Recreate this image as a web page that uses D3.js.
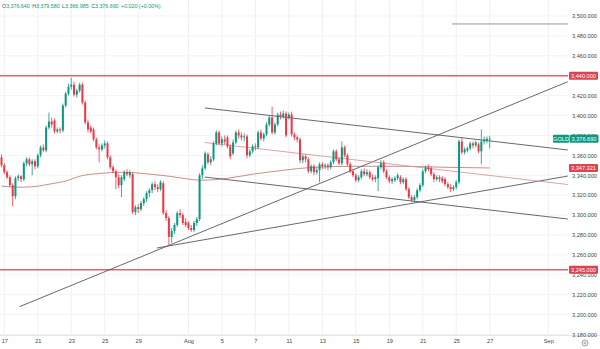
<!DOCTYPE html>
<html><head><meta charset="utf-8">
<script src="https://cdn.jsdelivr.net/npm/d3@7"></script>
<style>
html,body{margin:0;padding:0;background:#fff;}
svg{display:block;font-family:"Liberation Sans",Arial,sans-serif;}
</style>
</head><body>
<svg id="chart" width="600" height="349"></svg>
<script>
// GOLD, 4-hour candles: [open, high, low, close]
const candles = [
  [3358,3361,3348,3350],[3350,3352,3341,3343],[3343,3345,3336,3338],[3338,3340,3328,3330],[3330,3332,3309,3319],
  [3319,3339,3316,3337],[3337,3341,3334,3339],[3339,3340,3333,3336],[3336,3354,3334,3352],[3352,3358,3349,3356],
  [3356,3358,3349,3351],[3351,3356,3340,3354],[3354,3356,3346,3349],[3349,3362,3347,3360],[3360,3370,3358,3368],
  [3368,3371,3363,3365],[3365,3390,3363,3388],[3388,3403,3386,3394],[3394,3398,3388,3391],[3395,3397,3382,3384],
  [3384,3388,3382,3386],[3386,3388,3382,3385],[3385,3412,3383,3410],[3410,3424,3408,3422],[3422,3432,3420,3429],
  [3429,3438,3426,3431],[3431,3434,3419,3421],[3421,3427,3418,3425],[3425,3433,3423,3431],[3431,3433,3411,3413],
  [3413,3415,3391,3393],[3393,3396,3383,3386],[3388,3390,3382,3384],[3386,3388,3374,3376],[3376,3378,3366,3368],
  [3368,3371,3353,3366],[3366,3372,3364,3370],[3370,3375,3367,3372],[3372,3374,3356,3358],[3358,3360,3346,3348],
  [3348,3350,3342,3344],[3344,3346,3326,3338],[3338,3341,3327,3330],[3330,3340,3318,3338],[3336,3345,3334,3343],
  [3343,3346,3339,3341],[3340,3345,3337,3343],[3341,3343,3301,3303],[3303,3310,3300,3308],[3308,3311,3302,3306],
  [3306,3314,3304,3312],[3312,3318,3309,3316],[3316,3324,3313,3322],[3322,3327,3318,3325],[3325,3333,3322,3331],
  [3331,3334,3325,3328],[3328,3331,3323,3326],[3326,3335,3324,3333],[3332,3334,3300,3302],[3302,3305,3294,3297],
  [3297,3299,3269,3278],[3278,3287,3272,3284],[3284,3292,3281,3290],[3290,3304,3288,3302],[3302,3306,3297,3300],
  [3300,3302,3290,3292],[3293,3297,3288,3290],[3292,3294,3285,3287],[3287,3290,3283,3285],[3285,3294,3283,3292],
  [3292,3298,3289,3296],[3296,3342,3294,3340],[3340,3350,3336,3347],[3347,3364,3345,3362],[3361,3363,3351,3353],
  [3353,3359,3350,3356],[3356,3374,3354,3372],[3372,3385,3370,3383],[3383,3385,3370,3372],[3372,3379,3369,3376],
  [3376,3380,3371,3374],[3378,3380,3367,3369],[3369,3371,3356,3359],[3362,3376,3360,3373],[3373,3385,3371,3383],
  [3383,3386,3377,3380],[3380,3383,3375,3378],[3378,3382,3374,3379],[3379,3381,3357,3360],[3360,3366,3358,3364],
  [3364,3371,3362,3369],[3369,3372,3365,3368],[3368,3385,3366,3383],[3383,3386,3375,3377],[3377,3383,3374,3381],
  [3381,3393,3379,3391],[3391,3400,3389,3398],[3398,3409,3381,3383],[3383,3393,3381,3391],[3391,3403,3389,3401],
  [3401,3404,3396,3399],[3399,3405,3397,3402],[3402,3404,3378,3380],[3398,3403,3396,3401],[3401,3404,3379,3381],
  [3381,3383,3375,3378],[3378,3380,3373,3376],[3376,3378,3352,3355],[3355,3361,3352,3359],[3359,3361,3353,3356],
  [3356,3358,3342,3344],[3344,3351,3342,3349],[3349,3351,3340,3343],[3343,3348,3341,3345],[3345,3353,3333,3351],
  [3351,3353,3346,3349],[3349,3352,3346,3350],[3350,3352,3345,3348],[3348,3355,3346,3353],[3353,3366,3351,3364],
  [3364,3366,3354,3356],[3356,3358,3350,3352],[3352,3374,3350,3368],[3368,3370,3358,3360],[3360,3362,3349,3351],
  [3351,3353,3342,3344],[3344,3346,3338,3340],[3340,3342,3333,3335],[3335,3340,3333,3338],[3338,3346,3336,3344],
  [3344,3347,3339,3341],[3341,3346,3339,3343],[3343,3345,3336,3338],[3338,3341,3334,3336],[3336,3340,3333,3338],
  [3337,3350,3324,3348],[3348,3355,3346,3352],[3353,3355,3342,3344],[3344,3346,3336,3338],[3338,3340,3332,3334],
  [3334,3338,3331,3336],[3335,3339,3333,3337],[3337,3342,3335,3340],[3338,3340,3331,3333],[3333,3338,3331,3336],
  [3336,3338,3324,3326],[3326,3328,3316,3318],[3318,3320,3313,3315],[3315,3320,3313,3318],[3318,3327,3316,3325],
  [3325,3332,3323,3330],[3330,3346,3328,3344],[3344,3350,3342,3348],[3348,3351,3344,3346],[3347,3349,3339,3341],
  [3341,3343,3333,3336],[3336,3340,3334,3338],[3338,3340,3333,3336],[3337,3339,3332,3334],[3336,3338,3329,3331],
  [3331,3333,3326,3328],[3328,3331,3323,3326],[3326,3330,3324,3328],[3328,3335,3326,3333],[3333,3376,3331,3374],
  [3374,3378,3361,3363],[3363,3368,3361,3366],[3365,3369,3363,3367],[3367,3374,3365,3372],[3372,3374,3367,3370],
  [3370,3375,3368,3373],[3371,3373,3362,3364],[3364,3386,3351,3374],[3374,3379,3371,3376],[3375,3379,3372,3376.67],
  [3376.64,3379.58,3366.985,3376.69]
];

// moving average, sampled [candle index, value]
const maPoints = [
  [0,3329],[7,3328],[13,3329],[17,3331],[24,3335],[28,3339],[36,3342],[43,3343],[50,3342],
  [60,3339],[72,3335],[81,3337],[90,3341],[101,3345],[112,3348],[126,3349],[144,3349],[159,3348],[175,3347.321]
];

// time axis: candle index of each labelled session
const dateTickIdx  = [1, 13, 25, 37, 49, 67, 79, 91, 103, 115, 127, 139, 151, 163, 175, 196];
const dateTickText = ["17","21","23","25","29","Aug","5","7","11","13","15","19","21","25","27","Sep"];

const priceTicks = [3180,3200,3220,3240,3260,3280,3300,3320,3340,3360,3380,3400,3420,3440,3460,3480,3500];

// horizontal levels
const redLevels = [3440, 3245];
const topLevel = [161.5, 3492];

// drawn lines: [[index, price], [index, price]]
const channelUpper = [[72.9,3407.6],[203,3365.4]];
const channelMid   = [[72.9,3372.9],[203,3330.7]];
const channelLower = [[72.9,3338.2],[203,3296.0]];
const trendLong    = [[6.5,3208],[203,3434]];
const trendSupport = [[55.7,3266.9],[203,3339.2]];

const UP = "#089981", DOWN = "#f23645";
const plotR = 568, plotB = 335;

const svg = d3.select("#chart");
const x = d3.scaleLinear().domain([0,196]).range([1.5, 548.3]);
const y = d3.scaleLinear().domain([3180,3500]).range([334.5, 16]);

svg.append("defs").append("clipPath").attr("id","plot")
  .append("rect").attr("x",0).attr("y",0).attr("width",plotR).attr("height",plotB);

// grid
const grid = svg.append("g");
grid.selectAll("line.v").data(dateTickIdx).join("line")
  .attr("x1", d => x(d)).attr("x2", d => x(d)).attr("y1", 0).attr("y2", plotB)
  .attr("stroke", "#eef0f4").attr("stroke-width", 1);
grid.selectAll("line.h").data(priceTicks).join("line")
  .attr("x1", 0).attr("x2", plotR).attr("y1", d => y(d)).attr("y2", d => y(d))
  .attr("stroke", "#f2f3f6").attr("stroke-width", 1);

svg.append("line").attr("x1",0).attr("x2",600).attr("y1",plotB+0.5).attr("y2",plotB+0.5)
  .attr("stroke","#e3e5ea");

const plot = svg.append("g").attr("clip-path","url(#plot)");

// horizontal levels
plot.selectAll("line.lvl").data(redLevels).join("line")
  .attr("x1", 0).attr("x2", plotR).attr("y1", d => y(d)).attr("y2", d => y(d))
  .attr("stroke", "#d9666c").attr("stroke-width", 1.5);
plot.append("line")
  .attr("x1", x(topLevel[0])).attr("x2", plotR).attr("y1", y(topLevel[1])).attr("y2", y(topLevel[1]))
  .attr("stroke", "#8a8d94").attr("stroke-width", 0.9);

// moving average
plot.append("path").datum(maPoints)
  .attr("d", d3.line().x(d => x(d[0])).y(d => y(d[1])).curve(d3.curveMonotoneX))
  .attr("fill","none").attr("stroke","#c98f88").attr("stroke-width",1);

// drawn trend lines
const seg = d3.line().x(d => x(d[0])).y(d => y(d[1]));
[[channelUpper,"#55585e"],[channelLower,"#55585e"],[trendLong,"#55585e"],[trendSupport,"#55585e"],[channelMid,"#d79a9a"]]
  .forEach(([pts,col]) => {
    plot.append("path").attr("d", seg(pts)).attr("fill","none")
      .attr("stroke", col).attr("stroke-width", 0.9);
  });

// candles
const cg = plot.append("g");
const bars = cg.selectAll("g").data(candles).join("g")
  .attr("fill", d => d[3] >= d[0] ? UP : DOWN)
  .attr("stroke", d => d[3] >= d[0] ? UP : DOWN);
bars.append("line")
  .attr("x1", (d,i) => x(i)).attr("x2", (d,i) => x(i))
  .attr("y1", d => y(d[1])).attr("y2", d => y(d[2]))
  .attr("stroke-width", 0.8);
bars.append("rect")
  .attr("x", (d,i) => x(i) - 1).attr("width", 2)
  .attr("y", d => y(Math.max(d[0], d[3])))
  .attr("height", d => Math.max(0.8, Math.abs(y(d[0]) - y(d[3]))))
  .attr("stroke", "none");

// price axis
const yAxis = svg.append("g").attr("transform", `translate(${plotR+4},0)`)
  .call(d3.axisRight(y).tickValues(priceTicks).tickSize(0).tickPadding(0).tickFormat(d3.format(",.3f")));
yAxis.select(".domain").remove();
yAxis.selectAll("text").attr("font-size", 5.6).attr("fill", "#444").attr("font-family","Liberation Sans, Arial, sans-serif");

// time axis
const xAxis = svg.append("g").attr("transform", `translate(0,${plotB+4})`)
  .call(d3.axisBottom(x).tickValues(dateTickIdx).tickSize(0).tickPadding(0)
    .tickFormat((d,i) => dateTickText[i]));
xAxis.select(".domain").remove();
xAxis.selectAll("text").attr("font-size", 5.6).attr("fill", "#444").attr("font-family","Liberation Sans, Arial, sans-serif");

// settings icon
const gear = svg.append("g").attr("transform","translate(585,343)");
gear.append("circle").attr("r",3).attr("fill","none").attr("stroke","#777").attr("stroke-width",0.7);
gear.append("circle").attr("r",1.1).attr("fill","none").attr("stroke","#777").attr("stroke-width",0.6);

// value tags on the price axis
function tag(value, color, x0, w, label) {
  const g = svg.append("g").attr("transform", `translate(${x0},${y(value)})`);
  g.append("rect").attr("x",0).attr("y",-4).attr("width",w).attr("height",8).attr("rx",1).attr("fill",color);
  g.append("text").attr("x", w/2).attr("y", 2).attr("text-anchor","middle")
    .attr("font-size",5.6).attr("fill","#fff").text(label);
}
const last = candles[candles.length-1];
const maLast = maPoints[maPoints.length-1][1];
const fmt = d3.format(",.3f");
tag(redLevels[0], "#e0424e", 569, 29, fmt(redLevels[0]));
tag(redLevels[1], "#e0424e", 569, 29, fmt(redLevels[1]));
tag(maLast, "#e0424e", 569, 29, fmt(maLast));
tag(last[3], UP, 553, 16, "GOLD");
tag(last[3], UP, 569.5, 29, fmt(last[3]));

// OHLC header
const hdr = svg.append("text").attr("x", 2).attr("y", 7.5).attr("font-size", 5.3);
const chg = last[3] - candles[candles.length-2][3];
[["O", fmt(last[0])],["H", fmt(last[1])],["L", fmt(last[2])],["C", fmt(last[3])]].forEach(([k,v],i) => {
  hdr.append("tspan").attr("fill","#555").attr("dx", i ? 2.5 : 0).text(k);
  hdr.append("tspan").attr("fill",UP).text(v);
});
hdr.append("tspan").attr("fill",UP).attr("dx",2.5)
  .text(`${chg >= 0 ? "+" : ""}${chg.toFixed(3)} (${chg >= 0 ? "+" : ""}${(chg/candles[candles.length-2][3]*100).toFixed(2)}%)`);
</script>
</body></html>
